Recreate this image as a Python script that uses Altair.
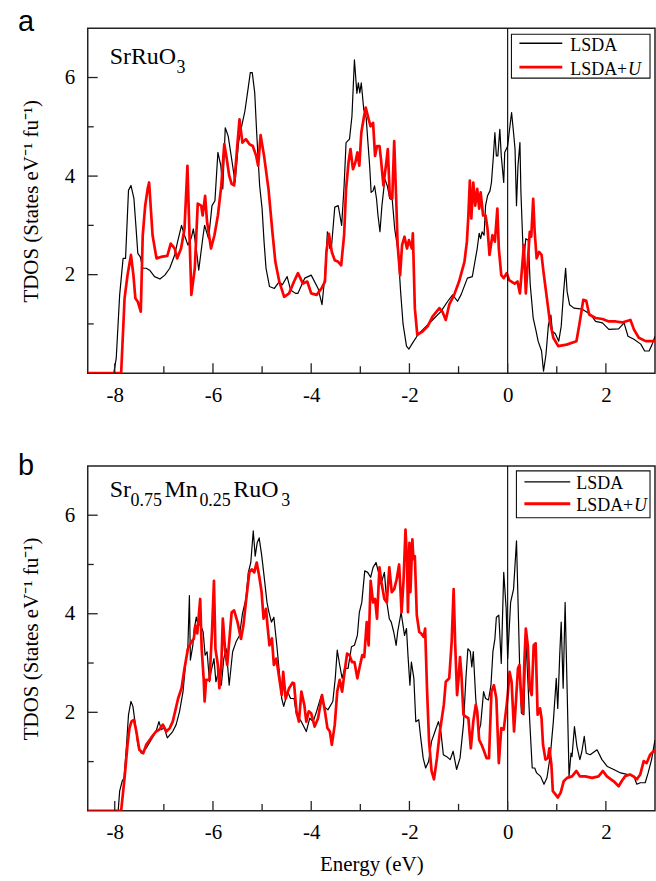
import altair as alt
import pandas as pd

# ---------------- data (Energy in eV, TDOS in states/eV/fu) ----------------
A_LSDA = [(-8.55,0),(-8.02,0),(-7.97,0.3),(-7.9,1.59),(-7.83,2.33),(-7.78,2.33),(-7.72,3.71),(-7.67,3.81),(-7.61,3.55),(-7.57,3.0),(-7.53,2.43),(-7.48,2.36),(-7.43,2.13),(-7.36,2.13),(-7.29,2.09),(-7.19,1.96),(-7.08,1.91),(-6.98,1.99),(-6.88,2.13),(-6.78,2.4),(-6.72,2.67),(-6.64,3.0),(-6.58,2.8),(-6.51,2.6),(-6.44,2.75),(-6.4,2.93),(-6.34,2.53),(-6.29,2.09),(-6.2,2.8),(-6.17,3.0),(-6.09,2.73),(-6.02,3.4),(-5.96,3.5),(-5.9,4.48),(-5.84,4.21),(-5.8,3.74),(-5.75,4.98),(-5.69,4.81),(-5.62,4.35),(-5.55,3.87),(-5.48,4.68),(-5.43,4.95),(-5.35,5.32),(-5.28,5.81),(-5.24,6.1),(-5.2,6.1),(-5.15,5.69),(-5.11,4.88),(-5.05,3.81),(-5.0,3.34),(-4.96,2.67),(-4.92,2.13),(-4.85,1.76),(-4.75,1.72),(-4.65,1.86),(-4.59,1.79),(-4.49,1.96),(-4.42,1.69),(-4.32,1.62),(-4.27,1.62),(-4.13,1.93),(-4.0,1.99),(-3.86,1.72),(-3.78,1.39),(-3.72,1.99),(-3.67,2.87),(-3.62,2.53),(-3.59,2.53),(-3.52,3.37),(-3.45,3.4),(-3.38,3.0),(-3.33,3.81),(-3.29,4.68),(-3.22,4.75),(-3.17,5.22),(-3.12,6.36),(-3.07,5.68),(-3.04,5.89),(-3.01,5.69),(-2.98,5.89),(-2.93,5.35),(-2.88,5.18),(-2.85,4.75),(-2.81,4.21),(-2.78,3.67),(-2.74,3.7),(-2.71,3.8),(-2.67,3.54),(-2.64,3.2),(-2.6,2.87),(-2.56,3.4),(-2.5,3.94),(-2.45,3.8),(-2.4,3.54),(-2.35,3.52),(-2.3,2.93),(-2.23,2.47),(-2.18,1.66),(-2.13,1.0),(-2.06,0.55),(-2.01,0.49),(-1.95,0.59),(-1.82,0.79),(-1.56,1.05),(-1.36,1.25),(-1.22,1.46),(-1.12,1.59),(-1.02,1.46),(-0.95,1.59),(-0.82,1.93),(-0.72,1.96),(-0.62,2.53),(-0.58,2.84),(-0.55,2.73),(-0.52,2.87),(-0.48,2.8),(-0.45,3.4),(-0.41,3.6),(-0.36,3.7),(-0.33,3.87),(-0.29,4.41),(-0.26,4.88),(-0.23,4.41),(-0.2,4.41),(-0.16,4.95),(-0.13,4.41),(-0.08,3.87),(-0.06,4.48),(0.0,4.61),(0.03,4.88),(0.08,5.29),(0.12,4.88),(0.15,4.55),(0.18,3.4),(0.21,4.21),(0.25,4.68),(0.27,3.67),(0.31,2.6),(0.33,2.33),(0.37,2.73),(0.42,2.7),(0.46,1.79),(0.52,1.12),(0.58,0.85),(0.62,0.65),(0.69,0.45),(0.73,0.04),(0.78,0.38),(0.83,0.98),(0.88,1.18),(0.91,0.85),(0.97,0.8),(1.04,0.65),(1.09,0.95),(1.14,1.66),(1.18,2.13),(1.21,1.66),(1.26,1.39),(1.35,1.32),(1.52,1.3),(1.69,1.19),(1.79,1.05),(1.93,1.02),(2.06,0.89),(2.26,0.9),(2.37,1.02),(2.45,0.75),(2.57,0.69),(2.71,0.59),(2.79,0.45),(2.88,0.45),(2.94,0.58),(3.0,0.75)]

A_LSDAU = [(-8.55,0),(-7.87,0),(-7.8,1.52),(-7.74,1.99),(-7.67,2.4),(-7.62,1.99),(-7.58,1.52),(-7.53,1.45),(-7.47,1.25),(-7.43,2.8),(-7.38,3.4),(-7.33,3.74),(-7.3,3.87),(-7.23,2.8),(-7.15,2.33),(-7.06,2.36),(-6.93,2.38),(-6.86,2.63),(-6.78,2.53),(-6.73,2.33),(-6.65,2.53),(-6.58,2.93),(-6.52,4.21),(-6.47,2.53),(-6.44,1.59),(-6.37,2.13),(-6.31,3.44),(-6.24,3.4),(-6.21,3.2),(-6.16,3.6),(-6.12,3.07),(-6.04,2.53),(-5.97,2.8),(-5.9,3.2),(-5.83,3.81),(-5.77,4.65),(-5.72,4.35),(-5.67,4.01),(-5.62,3.84),(-5.57,3.81),(-5.51,4.55),(-5.46,5.15),(-5.4,4.68),(-5.33,4.75),(-5.26,4.65),(-5.19,4.61),(-5.12,4.41),(-5.08,4.21),(-5.03,4.83),(-4.96,4.41),(-4.87,3.74),(-4.79,2.87),(-4.73,2.26),(-4.65,1.86),(-4.55,1.55),(-4.45,1.62),(-4.35,1.86),(-4.27,2.03),(-4.17,1.82),(-4.08,1.86),(-4.0,1.62),(-3.89,1.59),(-3.79,1.72),(-3.72,1.86),(-3.69,2.46),(-3.64,2.83),(-3.58,2.46),(-3.52,2.29),(-3.45,2.26),(-3.39,2.19),(-3.33,2.8),(-3.29,3.74),(-3.24,4.28),(-3.2,4.55),(-3.15,4.14),(-3.1,4.28),(-3.06,4.48),(-3.02,4.21),(-2.98,4.88),(-2.93,5.18),(-2.89,5.39),(-2.83,5.15),(-2.79,5.01),(-2.74,5.08),(-2.7,4.41),(-2.66,4.61),(-2.61,4.61),(-2.58,4.35),(-2.53,3.81),(-2.47,4.28),(-2.44,4.55),(-2.4,3.6),(-2.35,3.54),(-2.31,4.71),(-2.27,3.54),(-2.24,2.6),(-2.19,1.99),(-2.15,2.6),(-2.1,2.77),(-2.05,2.53),(-2.01,2.7),(-1.95,2.53),(-1.93,2.84),(-1.89,1.32),(-1.84,0.78),(-1.73,0.85),(-1.63,0.95),(-1.53,1.15),(-1.39,1.32),(-1.33,1.25),(-1.26,1.08),(-1.19,1.39),(-1.09,1.59),(-0.99,1.86),(-0.88,2.26),(-0.83,2.67),(-0.8,3.2),(-0.77,3.91),(-0.74,3.14),(-0.7,3.87),(-0.66,3.4),(-0.62,3.74),(-0.58,3.34),(-0.55,3.67),(-0.5,3.2),(-0.45,3.2),(-0.41,2.93),(-0.37,2.4),(-0.31,2.8),(-0.26,2.67),(-0.21,3.34),(-0.18,2.53),(-0.13,1.99),(-0.08,1.93),(-0.02,2.03),(0.03,1.89),(0.14,1.82),(0.2,1.86),(0.25,1.62),(0.29,2.1),(0.33,2.6),(0.37,1.62),(0.42,2.4),(0.45,2.87),(0.48,2.77),(0.52,3.54),(0.55,2.87),(0.59,2.33),(0.64,2.46),(0.69,2.4),(0.73,2.05),(0.79,1.59),(0.86,1.05),(0.93,0.72),(1.03,0.55),(1.2,0.58),(1.4,0.65),(1.46,0.99),(1.54,1.49),(1.6,1.47),(1.66,1.19),(1.79,1.12),(1.93,1.1),(2.06,1.05),(2.2,1.05),(2.33,1.03),(2.5,1.08),(2.57,0.89),(2.67,0.72),(2.81,0.65),(3.0,0.65)]

B_LSDA = [(-8.55,0),(-7.93,0),(-7.9,0.4),(-7.85,0.6),(-7.81,0.67),(-7.76,1.34),(-7.72,1.95),(-7.67,2.22),(-7.63,2.12),(-7.58,1.75),(-7.53,1.34),(-7.46,1.17),(-7.36,1.27),(-7.26,1.44),(-7.16,1.61),(-7.1,1.81),(-7.05,1.65),(-6.99,1.68),(-6.93,1.48),(-6.82,1.61),(-6.75,1.75),(-6.68,2.02),(-6.61,2.42),(-6.56,2.96),(-6.51,3.36),(-6.48,4.37),(-6.46,3.06),(-6.41,3.36),(-6.38,3.7),(-6.34,3.93),(-6.31,3.8),(-6.25,3.76),(-6.2,3.63),(-6.16,3.16),(-6.12,3.23),(-6.07,2.62),(-6.04,2.82),(-5.98,3.09),(-5.94,2.62),(-5.88,2.86),(-5.83,2.55),(-5.78,3.09),(-5.73,3.29),(-5.67,2.55),(-5.6,3.23),(-5.53,3.43),(-5.46,3.56),(-5.4,4.0),(-5.33,4.3),(-5.28,4.84),(-5.23,5.04),(-5.18,5.68),(-5.14,5.17),(-5.1,5.44),(-5.06,5.54),(-5.01,5.2),(-4.96,4.77),(-4.9,4.23),(-4.86,4.03),(-4.81,3.83),(-4.76,3.93),(-4.7,3.36),(-4.65,2.82),(-4.6,2.28),(-4.56,2.12),(-4.48,2.42),(-4.42,2.28),(-4.35,2.28),(-4.3,1.95),(-4.27,1.91),(-4.2,1.81),(-4.1,1.61),(-4.03,1.88),(-3.96,1.81),(-3.89,2.02),(-3.8,2.32),(-3.74,2.12),(-3.66,2.05),(-3.56,2.22),(-3.51,2.69),(-3.47,3.26),(-3.42,2.96),(-3.37,2.69),(-3.32,2.89),(-3.25,2.89),(-3.18,3.33),(-3.12,3.36),(-3.06,3.56),(-3.02,4.03),(-2.97,4.23),(-2.91,4.87),(-2.85,4.84),(-2.79,4.74),(-2.74,4.94),(-2.68,5.04),(-2.63,4.84),(-2.58,4.6),(-2.51,4.84),(-2.46,4.23),(-2.41,3.9),(-2.37,3.83),(-2.32,3.63),(-2.27,3.36),(-2.24,3.63),(-2.17,4.03),(-2.1,3.56),(-2.06,3.7),(-2.03,3.16),(-1.99,2.55),(-1.96,3.02),(-1.91,2.69),(-1.87,1.81),(-1.81,1.85),(-1.77,1.48),(-1.72,1.07),(-1.67,0.87),(-1.61,1.0),(-1.55,1.41),(-1.48,1.61),(-1.41,1.81),(-1.36,1.61),(-1.31,1.14),(-1.24,1.1),(-1.17,1.04),(-1.11,1.21),(-1.04,0.84),(-0.97,1.07),(-0.9,1.75),(-0.85,2.69),(-0.81,3.29),(-0.76,3.23),(-0.73,2.92),(-0.7,3.23),(-0.65,2.28),(-0.59,1.61),(-0.55,1.75),(-0.49,2.42),(-0.45,2.28),(-0.39,2.25),(-0.34,2.55),(-0.3,3.23),(-0.26,3.49),(-0.23,3.93),(-0.18,3.97),(-0.13,2.99),(-0.08,4.84),(-0.03,4.1),(0.0,3.09),(0.06,4.23),(0.12,4.5),(0.18,5.48),(0.22,3.9),(0.25,2.69),(0.28,1.98),(0.33,1.95),(0.37,3.5),(0.4,2.89),(0.45,1.81),(0.5,0.87),(0.55,0.87),(0.59,0.77),(0.67,0.7),(0.74,0.54),(0.8,0.67),(0.87,1.14),(0.93,1.81),(0.99,2.69),(1.02,2.08),(1.06,3.16),(1.09,3.83),(1.13,2.49),(1.17,4.23),(1.21,2.5),(1.25,0.7),(1.29,1.17),(1.31,1.1),(1.36,1.71),(1.41,1.31),(1.47,1.04),(1.51,1.2),(1.56,1.51),(1.6,1.17),(1.68,1.14),(1.82,1.24),(1.92,1.04),(2.03,0.9),(2.16,0.84),(2.3,0.77),(2.43,0.74),(2.57,0.7),(2.63,0.54),(2.7,0.57),(2.8,0.57),(2.86,0.77),(2.93,1.04),(3.0,1.44)]

B_LSDAU = [(-8.55,0),(-7.87,0),(-7.8,0.67),(-7.74,1.34),(-7.7,1.68),(-7.66,1.81),(-7.61,1.85),(-7.56,1.61),(-7.5,1.24),(-7.42,1.17),(-7.36,1.34),(-7.26,1.48),(-7.16,1.61),(-7.09,1.65),(-7.02,1.75),(-6.95,1.61),(-6.88,1.68),(-6.82,1.81),(-6.77,2.02),(-6.71,2.28),(-6.64,2.49),(-6.58,2.89),(-6.51,3.29),(-6.44,3.43),(-6.39,3.49),(-6.36,3.76),(-6.32,3.6),(-6.26,4.3),(-6.23,3.29),(-6.19,2.69),(-6.17,2.22),(-6.14,2.66),(-6.07,2.66),(-6.02,3.63),(-5.98,4.67),(-5.95,3.29),(-5.9,2.96),(-5.87,2.49),(-5.83,2.96),(-5.8,3.9),(-5.75,3.23),(-5.71,2.96),(-5.67,3.43),(-5.62,4.03),(-5.57,4.07),(-5.5,3.83),(-5.43,3.49),(-5.38,3.76),(-5.33,4.23),(-5.26,4.84),(-5.21,4.9),(-5.16,4.84),(-5.11,5.04),(-5.06,4.77),(-5.01,4.44),(-4.97,3.9),(-4.92,4.1),(-4.89,3.76),(-4.85,3.36),(-4.8,3.5),(-4.76,2.96),(-4.71,3.09),(-4.65,2.69),(-4.6,2.35),(-4.57,2.82),(-4.52,2.28),(-4.45,2.49),(-4.38,2.6),(-4.35,2.59),(-4.3,2.02),(-4.25,1.81),(-4.2,2.42),(-4.14,2.15),(-4.1,1.81),(-4.05,2.02),(-4.0,1.98),(-3.93,1.71),(-3.86,1.88),(-3.78,2.35),(-3.72,2.02),(-3.67,1.68),(-3.62,1.61),(-3.58,1.34),(-3.52,1.75),(-3.47,2.42),(-3.42,2.66),(-3.37,2.42),(-3.32,2.82),(-3.27,3.19),(-3.22,3.16),(-3.17,3.02),(-3.12,3.02),(-3.06,2.69),(-3.02,2.89),(-2.96,3.16),(-2.92,3.12),(-2.87,3.83),(-2.83,3.36),(-2.79,4.67),(-2.74,4.23),(-2.7,4.3),(-2.66,3.9),(-2.61,4.94),(-2.57,4.64),(-2.51,4.3),(-2.46,4.23),(-2.41,4.94),(-2.36,4.44),(-2.31,4.5),(-2.26,4.7),(-2.21,5.0),(-2.16,4.03),(-2.12,4.67),(-2.08,5.71),(-2.05,5.11),(-2.03,4.03),(-2.0,5.44),(-1.98,4.44),(-1.94,5.51),(-1.92,5.11),(-1.89,5.17),(-1.85,3.97),(-1.8,3.63),(-1.76,3.6),(-1.71,3.53),(-1.68,3.7),(-1.64,2.42),(-1.6,1.41),(-1.55,0.81),(-1.5,0.64),(-1.44,1.07),(-1.38,1.61),(-1.3,2.15),(-1.26,2.62),(-1.19,2.69),(-1.14,3.43),(-1.1,4.5),(-1.07,3.43),(-1.03,2.35),(-1.0,2.69),(-0.97,3.12),(-0.94,2.75),(-0.9,1.95),(-0.85,1.91),(-0.8,1.88),(-0.75,1.27),(-0.7,1.81),(-0.65,2.15),(-0.62,2.02),(-0.58,1.44),(-0.53,1.34),(-0.48,1.21),(-0.43,1.07),(-0.38,1.07),(-0.33,2.42),(-0.28,2.55),(-0.23,2.28),(-0.18,0.97),(-0.13,1.68),(-0.08,1.65),(-0.02,2.15),(0.0,2.35),(0.04,2.82),(0.08,2.62),(0.13,1.61),(0.16,2.08),(0.21,2.89),(0.24,2.96),(0.28,2.22),(0.31,1.98),(0.34,3.02),(0.37,3.7),(0.41,3.36),(0.45,2.49),(0.49,2.35),(0.53,3.36),(0.57,3.4),(0.61,1.95),(0.66,2.08),(0.69,1.88),(0.72,1.34),(0.77,1.04),(0.82,1.07),(0.85,1.27),(0.89,0.94),(0.92,0.4),(0.97,0.34),(1.02,0.27),(1.08,0.37),(1.14,0.6),(1.21,0.67),(1.31,0.7),(1.4,0.81),(1.47,0.7),(1.58,0.7),(1.72,0.67),(1.85,0.7),(1.94,0.81),(2.02,0.7),(2.16,0.6),(2.26,0.5),(2.32,0.6),(2.39,0.7),(2.49,0.74),(2.56,0.7),(2.63,0.64),(2.7,0.74),(2.77,1.01),(2.83,0.97),(2.9,1.14),(2.97,1.21),(3.0,1.21)]

X_DOMAIN = [-8.55, 3.0]
Y_DOMAIN = [0, 7]
X_MAJOR = [-8, -6, -4, -2, 0, 2]
X_MINOR = [-7, -5, -3, -1, 1]
Y_MAJOR = [2, 4, 6]
Y_MINOR = [1, 3, 5]
SERIES = ["LSDA", "LSDA+"]
SERIES_ITALIC = ["", "U"]
COLORS = ["#000000", "#ff0000"]
WIDTHS = [1.2, 2.7]
Y_TITLE = "TDOS (States eV\u207b\u00b9 fu\u207b\u00b9)"
X_TITLE = "Energy (eV)"
PANEL_LETTERS = ["a", "b"]
FORMULA_A = [("SrRuO", False), ("3", True)]
FORMULA_B = [("Sr", False), ("0.75", True), ("Mn", False), ("0.25", True), ("RuO", False), ("3", True)]

W, H = 569, 346
SERIF = "Liberation Serif"
FRAME = "#222222"


def one(df_text):
    return pd.DataFrame({"t": [df_text]})


def panel(lsda, lsdau, formula, formula_x, formula_base, letter, letter_base,
          legend, show_xtitle):
    xs = alt.Scale(domain=X_DOMAIN, nice=False, zero=False)
    ys = alt.Scale(domain=Y_DOMAIN, nice=False, zero=False)
    common = dict(ticks=False, tickSize=0, domain=False, grid=False,
                  labelFont=SERIF, labelFontSize=21, labelColor="black",
                  titleFont=SERIF, titleFontSize=21, titleFontWeight="normal", titleColor="black")
    xaxis = alt.Axis(values=X_MAJOR, labelPadding=11, titlePadding=11,
                     labelExpr="datum.value < 0 ? '-' + format(-datum.value, 'd') : format(datum.value, 'd')",
                     title=X_TITLE if show_xtitle else None, **common)
    yaxis = alt.Axis(values=Y_MAJOR, labelPadding=13, titlePadding=23, title=Y_TITLE, **common)

    layers = []
    for pts, col, sw in zip([lsda, lsdau], COLORS, WIDTHS):
        df = pd.DataFrame(pts, columns=["E", "DOS"])
        df["i"] = range(len(df))
        layers.append(
            alt.Chart(df).mark_line(color=col, strokeWidth=sw, clip=True, strokeJoin="round")
            .encode(x=alt.X("E:Q", scale=xs, axis=xaxis),
                    y=alt.Y("DOS:Q", scale=ys, axis=yaxis),
                    order="i:Q"))

    zero = alt.Chart(pd.DataFrame({"E": [0.0]})).mark_rule(color="#000000", strokeWidth=1.1).encode(
        x=alt.X("E:Q", scale=xs, axis=xaxis))

    ticks = []
    for vals, ln in [(X_MAJOR, 10), (X_MINOR, 7)]:
        ticks.append(alt.Chart(pd.DataFrame({"E": vals})).mark_rule(color=FRAME, strokeWidth=1.3)
                     .encode(x=alt.X("E:Q", scale=xs, axis=xaxis), y=alt.value(H), y2=alt.value(H - ln)))
    for vals, ln in [(Y_MAJOR, 10), (Y_MINOR, 6)]:
        ticks.append(alt.Chart(pd.DataFrame({"DOS": vals})).mark_rule(color=FRAME, strokeWidth=1.3)
                     .encode(y=alt.Y("DOS:Q", scale=ys, axis=yaxis), x=alt.value(0), x2=alt.value(ln)))

    # legend (box, sample lines, labels)
    bx0, bx1, by0, by1, lx0, lx1, ly, ty, dy, tx = legend
    leg = [alt.Chart(one("box")).mark_rect(fill="white", stroke="#111111", strokeWidth=1.1)
           .encode(x=alt.value(bx0), x2=alt.value(bx1), y=alt.value(by0), y2=alt.value(by1))]
    for k in range(2):
        leg.append(alt.Chart(one(SERIES[k])).mark_rule(color=COLORS[k], strokeWidth=WIDTHS[k] + 0.2)
                   .encode(x=alt.value(lx0), x2=alt.value(lx1), y=alt.value(ly + k * dy)))
        leg.append(alt.Chart(one(SERIES[k])).mark_text(align="left", baseline="alphabetic", font=SERIF,
                                                       fontSize=18, color="black")
                   .encode(x=alt.value(tx), y=alt.value(ty + k * dy), text="t:N"))
        if SERIES_ITALIC[k]:
            leg.append(alt.Chart(one(SERIES_ITALIC[k])).mark_text(align="left", baseline="alphabetic",
                                                                  font=SERIF, fontSize=18, fontStyle="italic",
                                                                  color="black")
                       .encode(x=alt.value(tx + 58), y=alt.value(ty + k * dy), text="t:N"))

    # compound formula
    form = []
    for (txt, sub), fx in zip(formula, formula_x):
        form.append(alt.Chart(one(txt)).mark_text(align="left", baseline="alphabetic", font=SERIF,
                                                  fontSize=18 if sub else 24, color="black")
                    .encode(x=alt.value(fx), y=alt.value(formula_base + (9 if sub else 0)), text="t:N"))

    let = alt.Chart(one(letter)).mark_text(align="left", baseline="alphabetic", font="Liberation Sans",
                                           fontSize=29, color="black").encode(
        x=alt.value(-70), y=alt.value(letter_base), text="t:N")

    return alt.layer(*(layers + [zero] + ticks + leg + form + [let])).properties(width=W, height=H)


pa = panel(A_LSDA, A_LSDAU, FORMULA_A, [22, 89], 36, PANEL_LETTERS[0], 3,
           (425, 564, 6, 50, 433, 476, 15, 23, 24, 484), False)
pb = panel(B_LSDA, B_LSDAU, FORMULA_B, [22, 43, 77, 112, 146, 194], 31, PANEL_LETTERS[1], 9,
           (430, 564, 5, 52, 438, 484, 16, 23, 22, 490), True)

chart = alt.vconcat(pa, pb, spacing=45).properties(
    padding={"left": 17, "top": 6, "right": 0, "bottom": 0},
    background="white",
).configure_view(stroke=FRAME, strokeWidth=1.5)

chart.save("out.html", embed_options={"renderer": "svg", "actions": False})
